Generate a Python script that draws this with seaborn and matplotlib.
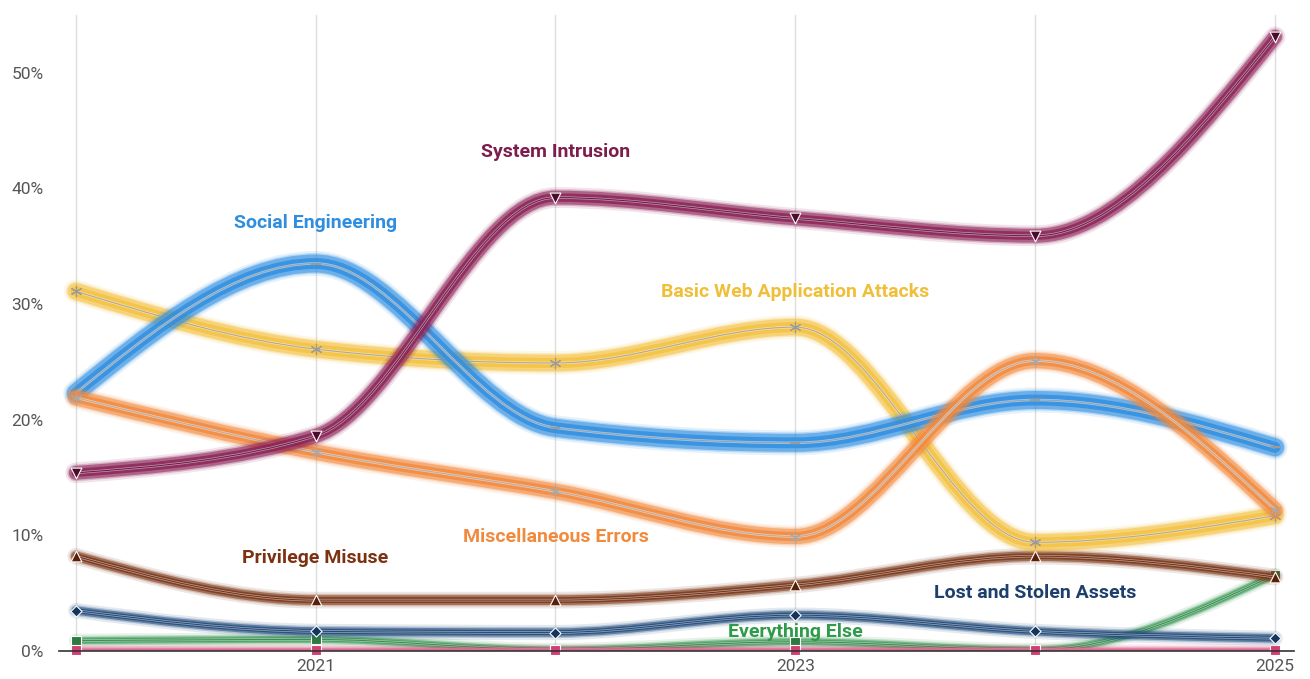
import matplotlib

matplotlib.use("Agg")
import matplotlib.pyplot as plt
import matplotlib.patches as mpatches
import numpy as np
import pandas as pd
import seaborn as sns
from matplotlib.path import Path

years = [2020, 2021, 2022, 2023, 2024, 2025]
year_labels = ["", "2021", "", "2023", "", "2025"]
y_ticks = [0, 10, 20, 30, 40, 50]

system_intrusion = [15.4, 18.6, 39.2, 37.4, 35.9, 53.1]
social_engineering = [22.3, 33.5, 19.3, 18.0, 21.7, 17.6]
basic_web = [31.1, 26.1, 24.9, 28.0, 9.4, 11.7]
misc_errors = [21.9, 17.2, 13.8, 9.9, 25.1, 12.2]
privilege_misuse = [8.2, 4.4, 4.4, 5.7, 8.2, 6.4]
lost_stolen = [3.5, 1.7, 1.6, 3.1, 1.7, 1.1]
everything_else = [0.9, 1.0, 0.1, 0.8, 0.1, 6.6]
denial_of_service = [0.1, 0.1, 0.1, 0.1, 0.1, 0.1]

# name, values, band colour, marker, marker colour, band width (pt), label position
series = [
    ("Everything Else", everything_else, "#3b9a55", "s", "#2c7a3f", 5, (2023.0, 1.65)),
    ("Denial of Service", denial_of_service, "#d23f72", "s", "#d23f72", 3, None),
    ("Lost and Stolen Assets", lost_stolen, "#1f4a7c", "D", "#15355c", 6, (2024.0, 5.0)),
    ("Privilege Misuse", privilege_misuse, "#7b3416", "^", "#5a1f08", 7, (2021.0, 8.0)),
    ("Basic Web Application Attacks", basic_web, "#f4c140", (6, 2, 0), "#9a9a9a", 12, (2023.0, 31.0)),
    ("Social Engineering", social_engineering, "#2f8ee0", "_", "#9a9a9a", 13, (2021.0, 37.0)),
    ("Miscellaneous Errors", misc_errors, "#f28a3e", (6, 2, 0), "#a8a8a8", 11, (2022.0, 9.9)),
    ("System Intrusion", system_intrusion, "#8c2157", "v", "#4a0c2a", 10, (2022.0, 43.1)),
]
label_colors = {
    "Basic Web Application Attacks": "#f0bf3a",
    "Social Engineering": "#2f8ee0",
    "Miscellaneous Errors": "#f28a3e",
    "System Intrusion": "#7d1d4d",
    "Privilege Misuse": "#7a3212",
    "Lost and Stolen Assets": "#1d3f6c",
    "Everything Else": "#2e9a4a",
}


def monotone_path(xs, ys):
    """Cubic Bezier path like d3.curveMonotoneX through the points."""
    xs = np.asarray(xs, float)
    ys = np.asarray(ys, float)
    n = len(xs)
    h = np.diff(xs)
    s = np.diff(ys) / h
    t = np.zeros(n)
    for i in range(1, n - 1):
        p = (s[i - 1] * h[i] + s[i] * h[i - 1]) / (h[i - 1] + h[i])
        t[i] = (np.sign(s[i - 1]) + np.sign(s[i])) * min(abs(s[i - 1]), abs(s[i]), 0.5 * abs(p))
    t[0] = (3 * s[0] - t[1]) / 2
    t[-1] = (3 * s[-1] - t[-2]) / 2
    verts = [(xs[0], ys[0])]
    codes = [Path.MOVETO]
    for i in range(n - 1):
        dx = h[i] / 3
        verts += [(xs[i] + dx, ys[i] + dx * t[i]),
                  (xs[i + 1] - dx, ys[i + 1] - dx * t[i + 1]),
                  (xs[i + 1], ys[i + 1])]
        codes += [Path.CURVE4] * 3
    return Path(verts, codes)


sns.set_theme(style="white")
plt.rcParams["font.family"] = ["Roboto", "DejaVu Sans"]

fig = plt.figure(figsize=(13.1, 6.79), dpi=100)
ax = fig.add_axes([0.045, 0.0412, 0.943, 0.937])

for k, (name, vals, color, marker, mcolor, width, pos) in enumerate(series):
    path = monotone_path(years, vals)
    z = 3 + k * 0.1
    for lw, alpha in [(width + 5, 0.12), (width + 2, 0.25), (width, 0.55), (width * 0.6, 0.8)]:
        ax.add_patch(mpatches.PathPatch(path, fill=False, edgecolor=color, lw=lw,
                                        alpha=alpha, capstyle="round", zorder=z))
    ax.add_patch(mpatches.PathPatch(path, fill=False, edgecolor="white", lw=1.8,
                                    alpha=0.5, zorder=z + 0.01))
    ax.add_patch(mpatches.PathPatch(path, fill=False, edgecolor=mcolor, lw=0.8,
                                    alpha=0.8, zorder=z + 0.02))
    df = pd.DataFrame({"year": years, "share": vals})
    sns.scatterplot(data=df, x="year", y="share", ax=ax, marker=marker,
                    color=mcolor, s=60 if marker != "D" else 32,
                    edgecolor="white" if not isinstance(marker, tuple) and marker != "_" else mcolor,
                    linewidth=0.8 if marker != "_" else 1.6,
                    zorder=z + 0.05, clip_on=False, legend=False)
    if pos is not None:
        ax.text(pos[0], pos[1], name, color=label_colors[name], fontsize=14,
                fontweight="bold", ha="center", va="center", zorder=20)

ax.set_xlim(2019.93, 2025.08)
ax.set_ylim(0, 55)
ax.set_xticks(years)
ax.set_xticklabels(year_labels)
ax.set_yticks(y_ticks)
ax.set_yticklabels([f"{v}%" for v in y_ticks])
ax.tick_params(axis="both", length=0, labelsize=12.5, labelcolor="#555555")
ax.tick_params(axis="y", pad=11)
ax.tick_params(axis="x", pad=6)
ax.grid(axis="x", color="#dddddd", linewidth=1)
ax.grid(axis="y", visible=False)
ax.set_xlabel("")
ax.set_ylabel("")
for side in ["left", "top", "right"]:
    ax.spines[side].set_visible(False)
ax.spines["bottom"].set_color("#333333")
ax.spines["bottom"].set_linewidth(1.2)
ax.spines["bottom"].set_zorder(10)

fig.savefig("out.png", dpi=100)
